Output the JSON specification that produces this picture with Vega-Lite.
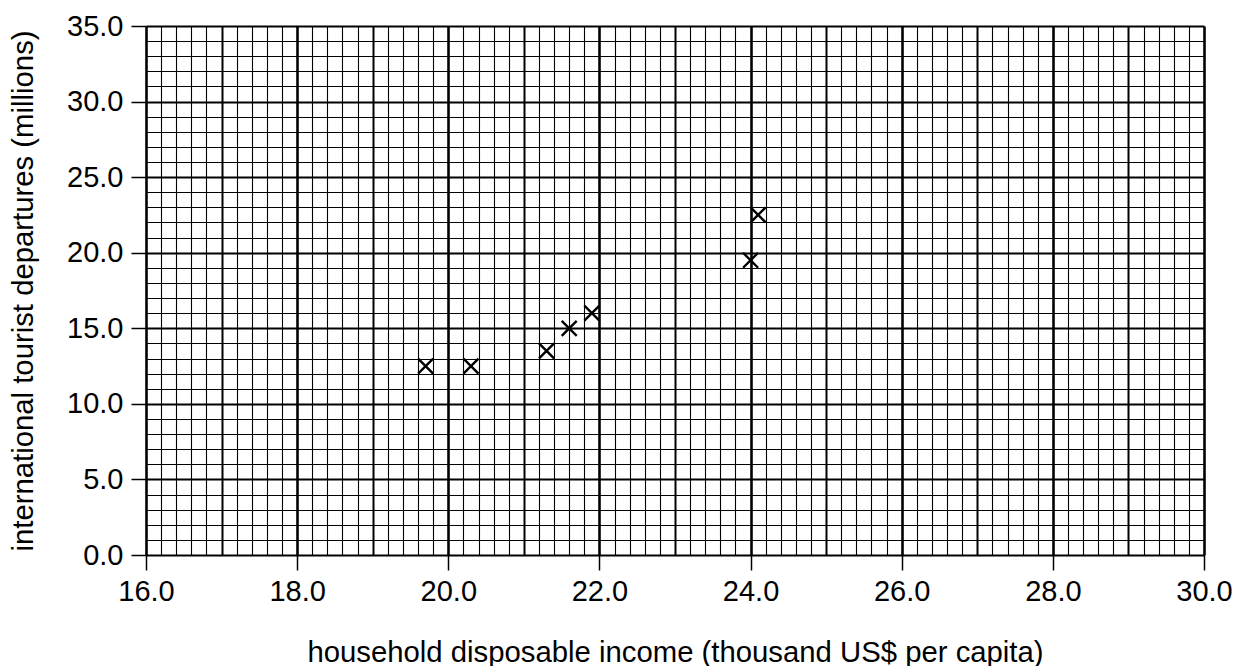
{
  "$schema": "https://vega.github.io/schema/vega-lite/v6.json",
  "autosize": "none",
  "padding": {"left": 146, "top": 26, "right": 40, "bottom": 111},
  "width": 1058,
  "height": 529,
  "background": "white",
  "view": {"stroke": null},
  "config": {
    "font": "Liberation Sans",
    "axis": {
      "labelFont": "Liberation Sans",
      "titleFont": "Liberation Sans",
      "labelFontSize": 29,
      "titleFontSize": 29.3,
      "labelColor": "black",
      "titleColor": "black",
      "titleFontWeight": "normal",
      "tickColor": "black",
      "gridColor": "black",
      "gridOpacity": 1,
      "domain": false,
      "labelOverlap": false,
      "labelFlush": false,
      "tickSize": 15,
      "tickWidth": 1.5
    }
  },
  "data": {
    "values": [
      {"income": 19.7, "departures": 12.5},
      {"income": 20.3, "departures": 12.5},
      {"income": 21.3, "departures": 13.5},
      {"income": 21.6, "departures": 15.0},
      {"income": 21.9, "departures": 16.0},
      {"income": 24.0, "departures": 19.5},
      {"income": 24.1, "departures": 22.5}
    ]
  },
  "mark": {
    "type": "point",
    "shape": "M-1,-1L1,1M-1,1L1,-1",
    "filled": false,
    "stroke": "black",
    "strokeWidth": 2.4,
    "size": 225,
    "opacity": 1
  },
  "encoding": {
    "x": {
      "field": "income",
      "type": "quantitative",
      "title": "household disposable income (thousand US$ per capita)",
      "scale": {"domain": [16, 30], "nice": false, "zero": false},
      "axis": {
        "values": [16,16.2,16.4,16.6,16.8,17,17.2,17.4,17.6,17.8,18,18.2,18.4,18.6,18.8,19,19.2,19.4,19.6,19.8,20,20.2,20.4,20.6,20.8,21,21.2,21.4,21.6,21.8,22,22.2,22.4,22.6,22.8,23,23.2,23.4,23.6,23.8,24,24.2,24.4,24.6,24.8,25,25.2,25.4,25.6,25.8,26,26.2,26.4,26.6,26.8,27,27.2,27.4,27.6,27.8,28,28.2,28.4,28.6,28.8,29,29.2,29.4,29.6,29.8,30],
        "grid": true,
        "gridWidth": {"condition": [{"test": "datum.value % 2 === 0", "value": 2.6}, {"test": "datum.value % 1 === 0", "value": 2}], "value": 1.1},
        "tickOpacity": {"condition": {"test": "datum.value % 2 === 0", "value": 1}, "value": 0},
        "labelExpr": "datum.value % 2 === 0 ? format(datum.value, '.1f') : ''",
        "labelPadding": 7,
        "titleY": 106,
        "titleBaseline": "alphabetic"
      }
    },
    "y": {
      "field": "departures",
      "type": "quantitative",
      "title": "international tourist departures (millions)",
      "scale": {"domain": [0, 35], "nice": false, "zero": true},
      "axis": {
        "values": [0,1,2,3,4,5,6,7,8,9,10,11,12,13,14,15,16,17,18,19,20,21,22,23,24,25,26,27,28,29,30,31,32,33,34,35],
        "grid": true,
        "gridWidth": {"condition": {"test": "datum.value % 5 === 0", "value": 2.2}, "value": 1.1},
        "tickOpacity": {"condition": {"test": "datum.value % 5 === 0", "value": 1}, "value": 0},
        "labelExpr": "datum.value % 5 === 0 ? format(datum.value, '.1f') : ''",
        "labelPadding": 8,
        "titleX": -114,
        "titleBaseline": "alphabetic"
      }
    }
  }
}
